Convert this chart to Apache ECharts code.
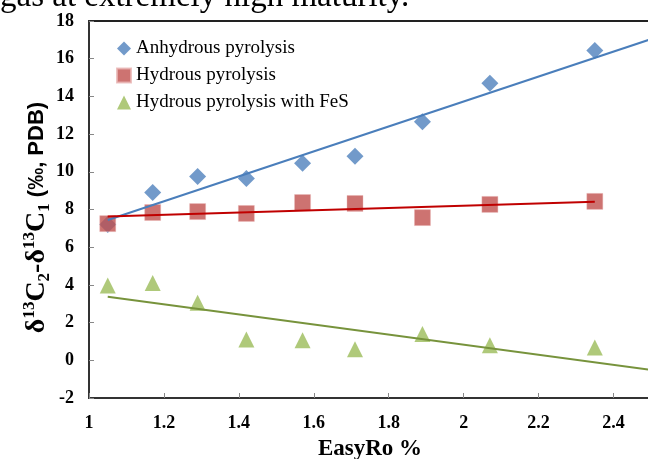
<!DOCTYPE html>
<html>
<head>
<meta charset="utf-8">
<script src="https://cdn.jsdelivr.net/npm/echarts@6/dist/echarts.min.js"></script>
<style>
  html, body { margin: 0; padding: 0; background: #fff; }
  #chart { width: 648px; height: 459px; }
</style>
</head>
<body>
<div id="chart"></div>
<script>
// EasyRo % for each experiment
const easyRo = [1.05, 1.17, 1.29, 1.42, 1.57, 1.71, 1.89, 2.07, 2.35];
// d13C2 - d13C1 (permil, PDB)
const anhydrous = [7.2, 8.9, 9.75, 9.65, 10.45, 10.83, 12.65, 14.7, 16.43];
const hydrous = [7.25, 7.84, 7.89, 7.79, 8.37, 8.32, 7.57, 8.27, 8.43];
const hydrousFeS = [3.97, 4.1, 3.05, 1.1, 1.07, 0.59, 1.39, 0.8, 0.68];

const seriesNames = ['Anhydrous pyrolysis', 'Hydrous pyrolysis', 'Hydrous pyrolysis with FeS'];
const trendEnd = [2.5, 2.35, 2.5];

const serif = 'Liberation Serif';

// least squares fit, like the Excel trendline
function fit(xs, ys) {
  const n = xs.length;
  const mx = xs.reduce((a, b) => a + b, 0) / n;
  const my = ys.reduce((a, b) => a + b, 0) / n;
  let sxy = 0, sxx = 0;
  for (let i = 0; i < n; i++) {
    sxy += (xs[i] - mx) * (ys[i] - my);
    sxx += (xs[i] - mx) * (xs[i] - mx);
  }
  const k = sxy / sxx;
  return x => my + k * (x - mx);
}

function trend(ys, x1) {
  const f = fit(easyRo, ys);
  const x0 = easyRo[0];
  return [[x0, f(x0)], [x1, f(x1)]];
}

const pairs = ys => easyRo.map((x, i) => [x, ys[i]]);

const chart = echarts.init(document.getElementById('chart'));

const option = {
  animation: false,
  graphic: [{
    type: 'text',
    x: 0,
    y: 14,
    style: {
      text: 'gas at extremely high maturity.',
      font: '33px "Liberation Serif"',
      fill: '#000',
      verticalAlign: 'bottom'
    }
  }],
  grid: {
    left: 89,
    right: -3,
    top: 21,
    bottom: 61,
    outerBoundsMode: 'none',
    show: true,
    borderColor: '#222',
    borderWidth: 2
  },
  legend: {
    data: [
      { name: seriesNames[0], icon: 'diamond' },
      { name: seriesNames[1], icon: 'rect' },
      { name: seriesNames[2], icon: 'triangle' }
    ],
    orient: 'vertical',
    left: 111,
    top: 34,
    itemWidth: 14,
    itemHeight: 14,
    itemGap: 8,
    textStyle: { fontFamily: serif, fontSize: 19, color: '#000' }
  },
  xAxis: {
    type: 'value',
    min: 1,
    max: 2.5,
    interval: 0.2,
    name: 'EasyRo %',
    nameLocation: 'middle',
    nameGap: 40,
    nameTextStyle: { fontFamily: serif, fontSize: 23, fontWeight: 'bold', color: '#000' },
    axisLine: { onZero: false, lineStyle: { color: '#333', width: 2 } },
    axisTick: { inside: true, length: 5, lineStyle: { color: '#888' } },
    axisLabel: {
      showMaxLabel: false,
      margin: 16,
      fontFamily: serif,
      fontSize: 18,
      fontWeight: 'bold',
      color: '#000'
    },
    splitLine: { show: false }
  },
  yAxis: {
    type: 'value',
    min: -2,
    max: 18,
    interval: 2,
    name: '{d|δ}{sup|13}{d|C}{sub|2}{d|-δ}{sup|13}{d|C}{sub|1}{p| (‰, PDB)}',
    nameLocation: 'middle',
    nameRotate: 90,
    nameGap: 36,
    nameMoveOverlap: false,
    nameTextStyle: {
      color: '#000',
      padding: [0, 16, 0, 0],
      rich: {
        d: { fontFamily: serif, fontSize: 28, fontWeight: 'bold', lineHeight: 32, verticalAlign: 'middle' },
        sup: { fontFamily: serif, fontSize: 17, fontWeight: 'bold', lineHeight: 32, verticalAlign: 'top' },
        sub: { fontFamily: serif, fontSize: 17, fontWeight: 'bold', lineHeight: 32, verticalAlign: 'bottom' },
        p: { fontFamily: 'Liberation Sans', fontSize: 22, fontWeight: 'bold', lineHeight: 32, verticalAlign: 'middle' }
      }
    },
    axisLine: { show: true, onZero: false, lineStyle: { color: '#333', width: 2 } },
    axisTick: { show: true, inside: true, length: 5, lineStyle: { color: '#888' } },
    axisLabel: {
      margin: 15,
      fontFamily: serif,
      fontSize: 18,
      fontWeight: 'bold',
      color: '#000'
    },
    splitLine: { show: false }
  },
  series: [
    {
      name: seriesNames[0],
      type: 'scatter',
      symbol: 'diamond',
      symbolSize: 17,
      itemStyle: { color: '#4F81BD' },
      data: pairs(anhydrous)
    },
    {
      name: seriesNames[1],
      type: 'scatter',
      symbol: 'rect',
      symbolSize: 16,
      itemStyle: { color: '#C0504D', borderColor: '#E8B4B3', borderWidth: 0.5 },
      data: pairs(hydrous)
    },
    {
      name: seriesNames[2],
      type: 'scatter',
      symbol: 'triangle',
      symbolSize: 16,
      itemStyle: { color: '#9BBB59' },
      data: pairs(hydrousFeS)
    },
    {
      name: 'trend-anhydrous',
      type: 'line',
      showSymbol: false,
      lineStyle: { color: '#4A7EBB', width: 2 },
      data: trend(anhydrous, trendEnd[0]),
      z: 5
    },
    {
      name: 'trend-hydrous',
      type: 'line',
      showSymbol: false,
      lineStyle: { color: '#C00000', width: 2 },
      data: trend(hydrous, trendEnd[1]),
      z: 5
    },
    {
      name: 'trend-fes',
      type: 'line',
      showSymbol: false,
      lineStyle: { color: '#77933C', width: 2 },
      data: trend(hydrousFeS, trendEnd[2]),
      z: 5
    }
  ]
};

chart.setOption(option);
</script>
</body>
</html>
